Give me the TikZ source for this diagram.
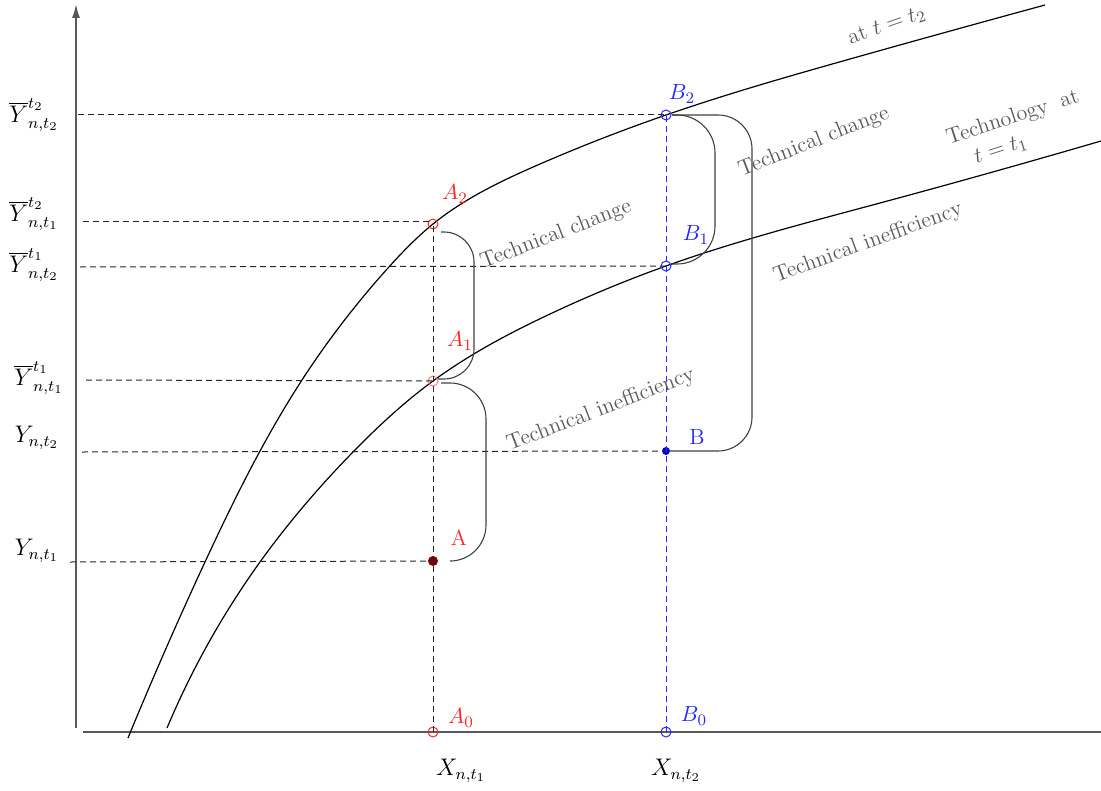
\documentclass[tikz,border=0pt]{standalone}
\usetikzlibrary{arrows.meta,hobby}
\definecolor{ptred}{RGB}{255,40,40}
\definecolor{ptblue}{RGB}{40,40,255}
\definecolor{obsred}{RGB}{128,0,0}
\definecolor{obsblue}{RGB}{0,0,230}
\begin{document}
\begin{tikzpicture}[x=0.5pt,y=-0.5pt,
  every node/.style={font=\fontsize{11}{13}\selectfont},
  axis/.style={draw=black!65, line width=0.8pt},
  curve/.style={draw=black, line width=0.6pt},
  guide/.style={draw=black!85, dash pattern=on 3pt off 2pt, line width=0.5pt},
  bguide/.style={draw=ptblue, dash pattern=on 3pt off 2pt, line width=0.5pt},
  brace/.style={draw=black!75, line width=0.55pt},
  opt/.style={circle, draw, line width=0.5pt, minimum size=5pt, inner sep=0pt},
  obs/.style={circle, fill, minimum size=5pt, inner sep=0pt},
  note/.style={text=black!65, font=\fontsize{11}{16}\selectfont},
  ylab/.style={font=\fontsize{12}{14}\selectfont, inner sep=0pt},
  plab/.style={inner sep=0pt}]
\useasboundingbox (0,0) rectangle (1101,791);

% axes
\coordinate (ybot) at (76,728);
\coordinate (ytop) at (76,4);
\coordinate (xstart) at (83,732);
\coordinate (xend) at (1101,732);
\draw[axis, -{Latex[length=7pt,width=4pt]}] (ybot) -- (ytop);
\draw[axis] (xstart) -- (xend);

% technology curves
\draw[curve, use Hobby shortcut] (128,738) .. (205,562) .. (302,380) .. (388,268) .. (433,224) .. (540,164) .. (666,115) .. (850,59) .. (1045,5);
\draw[curve, use Hobby shortcut] (167,728) .. (260,562) .. (353,452) .. (433,381) .. (550,314) .. (666,266) .. (880,203) .. (1101,141);

% points
\node[opt, draw=ptred] (A0) at (433,732) {};
\node[obs, fill=obsred] (A) at (433,561) {};
\node[opt, draw=ptred!60] (A1) at (433,381) {};
\node[opt, draw=ptred] (A2) at (433,224) {};
\node[opt, draw=ptblue] (B0) at (666,732) {};
\node[obs, fill=obsblue, minimum size=4pt] (B) at (666,451) {};
\node[opt, draw=ptblue] (B1) at (666,266) {};
\node[opt, draw=ptblue] (B2) at (666,115) {};

% axis anchors of the guide lines
\coordinate (yB2) at (78,115);
\coordinate (yA2) at (83,221);
\coordinate (yB1) at (80,267);
\coordinate (yA1) at (86,380);
\coordinate (yB) at (82,452);
\coordinate (yA) at (70,562);

\draw[guide] (yB2) -- (B2.center);
\draw[guide] (yA2) -- (433,221);
\draw[guide] (yB1) -- (B1.center);
\draw[guide] (yA1) -- (A1.center);
\draw[guide] (yB) -- (B.center);
\draw[guide] (yA) -- (A.center);
\draw[guide] (A0.center) -- (A2.center);
\draw[bguide] (B0.center) -- (B2.center);

% braces
\draw[brace, rounded corners=15pt] (441,232) -- (474,232) -- (474,379) -- (438,379);
\draw[brace, rounded corners=18pt] (441,383) -- (486,383) -- (486,561) -- (452,561);
\draw[brace, rounded corners=19pt] (672,115) -- (715,115) -- (715,264) -- (671,264);
\draw[brace, rounded corners=17pt] (672,115) -- (752,115) -- (752,451) -- (669,451);

% point labels
\node[plab, text=ptred] (lA2) at (455,194) {$A_2$};
\node[plab, text=ptred] (lA1) at (460,341) {$A_1$};
\node[plab, text=ptred] (lA) at (459,538) {A};
\node[plab, text=ptred] (lA0) at (461,718) {$A_0$};
\node[plab, text=ptblue] (lB2) at (682,94) {$B_2$};
\node[plab, text=ptblue] (lB1) at (696,235) {$B_1$};
\node[plab, text=ptblue] (lB) at (697,437) {B};
\node[plab, text=ptblue] (lB0) at (694,716) {$B_0$};

% axis labels
\node[ylab] (Y22) at (34,115) {$\overline{Y}^{t_2}_{n,t_2}$};
\node[ylab] (Y21) at (34,214) {$\overline{Y}^{t_2}_{n,t_1}$};
\node[ylab] (Y12) at (34,265) {$\overline{Y}^{t_1}_{n,t_2}$};
\node[ylab] (Y11) at (39,378) {$\overline{Y}^{t_1}_{n,t_1}$};
\node[ylab] (Yt2) at (37,438) {$Y_{n,t_2}$};
\node[ylab] (Yt1) at (37,551) {$Y_{n,t_1}$};
\node[ylab] (X1) at (461,771) {$X_{n,t_1}$};
\node[ylab] (X2) at (676,771) {$X_{n,t_2}$};

% annotations
\node[note, rotate=21] (tc1) at (556,235) {Technical change};
\node[note, rotate=21] (ti1) at (601,410) {Technical inefficiency};
\node[note, rotate=21.5] (tc2) at (814,142) {Technical change};
\node[note, rotate=20] (ti2) at (868,243) {Technical inefficiency};
\node[note, rotate=19.5] (at2) at (887,26) {at $t=t_2$};
\node[note, rotate=18] (at1a) at (1013,118) {Technology\hspace{0.6em}at};
\node[note, rotate=18] (at1b) at (1001,150) {$t=t_1$};
\end{tikzpicture}
\end{document}
